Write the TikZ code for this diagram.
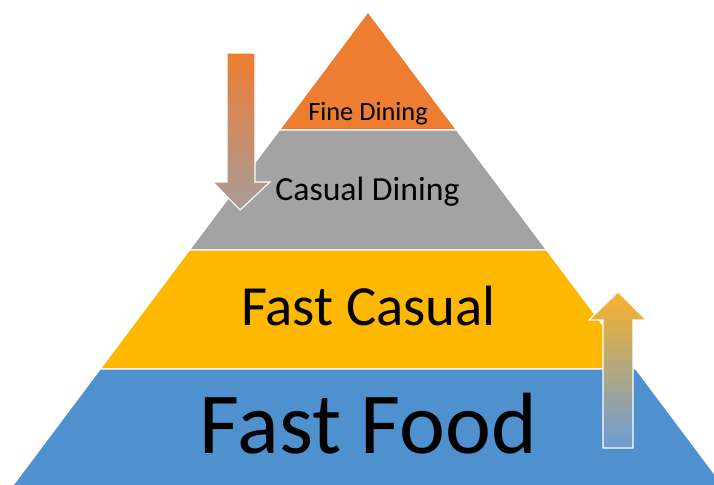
\documentclass[tikz,border=0pt]{standalone}
\usepackage{fontspec}
\setmainfont{Carlito}
\usepackage{tikz}
\usetikzlibrary{positioning}
\usepackage{xcolor}
\definecolor{fineorange}{HTML}{ED7D31}
\definecolor{casualgray}{HTML}{A3A3A3}
\definecolor{fastyellow}{HTML}{FFB800}
\definecolor{foodblue}{HTML}{4F91CE}
\definecolor{downend}{HTML}{A99C9A}
\definecolor{upend}{HTML}{6A9DD6}
\definecolor{uptop}{HTML}{FAB22A}

\begin{document}
\begin{tikzpicture}[x=0.02cm, y=-0.02cm, >=stealth]

    \useasboundingbox (0,0) rectangle (714,484);
    \clip (0,0) rectangle (714,484);

    % layers of the pyramid, top to bottom
    \foreach \ytop/\ybot/\col in {12/130/fineorange,130/250/casualgray,250/369/fastyellow,369/490/foodblue}{
        \fill[\col, draw=white, line width=0.6pt]
            ({368-0.75*(\ytop-12)},\ytop) -- ({368+0.75*(\ytop-12)},\ytop)
            -- ({368+0.75*(\ybot-12)},\ybot) -- ({368-0.75*(\ybot-12)},\ybot) -- cycle;
    }

    % labels
    \node[anchor=base, font=\fontsize{15}{18}\selectfont] (fine) at (368,120) {Fine Dining};
    \node[anchor=base, font=\fontsize{19.2}{23}\selectfont] (casual) at (367.5,200) {Casual Dining};
    \node[anchor=base, font=\fontsize{32.3}{38}\selectfont] (fastcasual) at (368.5,325) {Fast Casual};
    \node[anchor=base, font=\fontsize{49.5}{58}\selectfont] (fastfood) at (368.5,453) {Fast Food};

    % trend arrows
    \shade[top color=fineorange, bottom color=downend, draw=white, line width=0.6pt]
        (227,53) -- (255,53) -- (255,182) -- (270,182) -- (240,210) -- (213,182) -- (227,182) -- cycle;
    \shade[top color=uptop, bottom color=upend, draw=white, line width=0.6pt]
        (603,448) -- (633,448) -- (633,320) -- (646,320) -- (618,292) -- (589,320) -- (603,320) -- cycle;
\end{tikzpicture}
\end{document}
